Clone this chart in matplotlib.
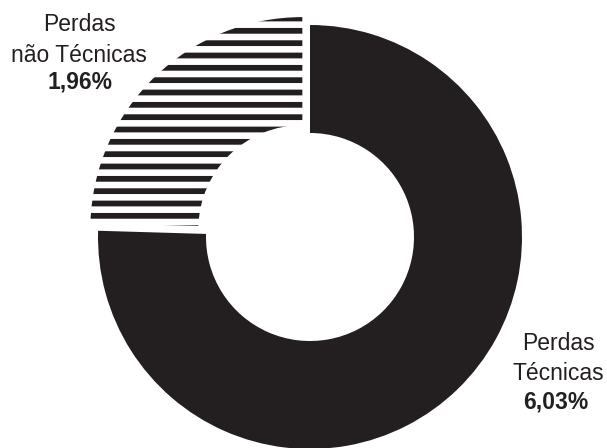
import matplotlib.pyplot as plt

# dados
labels = ["Perdas\nTécnicas", "Perdas\nnão Técnicas"]
values = [6.03, 1.96]

DPI = 74
W, H = 607, 448
DARK = "#231f20"

plt.rcParams["font.family"] = ["Liberation Sans", "DejaVu Sans"]
plt.rcParams["hatch.linewidth"] = 5.6

fig = plt.figure(figsize=(W / DPI, H / DPI), dpi=DPI)
ax = fig.add_axes([0, 0, 1, 1])

R = 212
# explode em unidades de dados (pixels aqui)
wedges, _ = ax.pie(values, startangle=90, counterclock=False, radius=R,
                   center=(310, H - 237), explode=[0, 11], frame=True,
                   wedgeprops=dict(width=R - 104, linewidth=0))
wedges[0].set_facecolor(DARK)
wedges[1].set_facecolor("white")
wedges[1].set_edgecolor(DARK)
wedges[1].set_linewidth(0)
wedges[1].set_hatch("-")
ax.set_xlim(0, W)
ax.set_ylim(0, H)
ax.set_aspect("equal")
ax.axis("off")


def pct(v):
    return f"{v:.2f}%".replace(".", ",")


fs = 22.3
# rótulo Perdas não Técnicas
l1, l2 = labels[1].split("\n")
ax.text(79, H - 31, l1, ha="center", va="baseline", fontsize=fs, color=DARK)
ax.text(79, H - 62, l2, ha="center", va="baseline", fontsize=fs, color=DARK)
ax.text(80, H - 89, pct(values[1]), ha="center", va="baseline", fontsize=fs,
        color=DARK, fontweight="bold")

# rótulo Perdas Técnicas
r1, r2 = labels[0].split("\n")
ax.text(558, H - 350, r1, ha="center", va="baseline", fontsize=fs, color=DARK)
ax.text(558, H - 380, r2, ha="center", va="baseline", fontsize=fs, color=DARK)
ax.text(556, H - 408, pct(values[0]), ha="center", va="baseline", fontsize=fs,
        color=DARK, fontweight="bold")

fig.savefig("out.png", dpi=DPI, facecolor="white")
